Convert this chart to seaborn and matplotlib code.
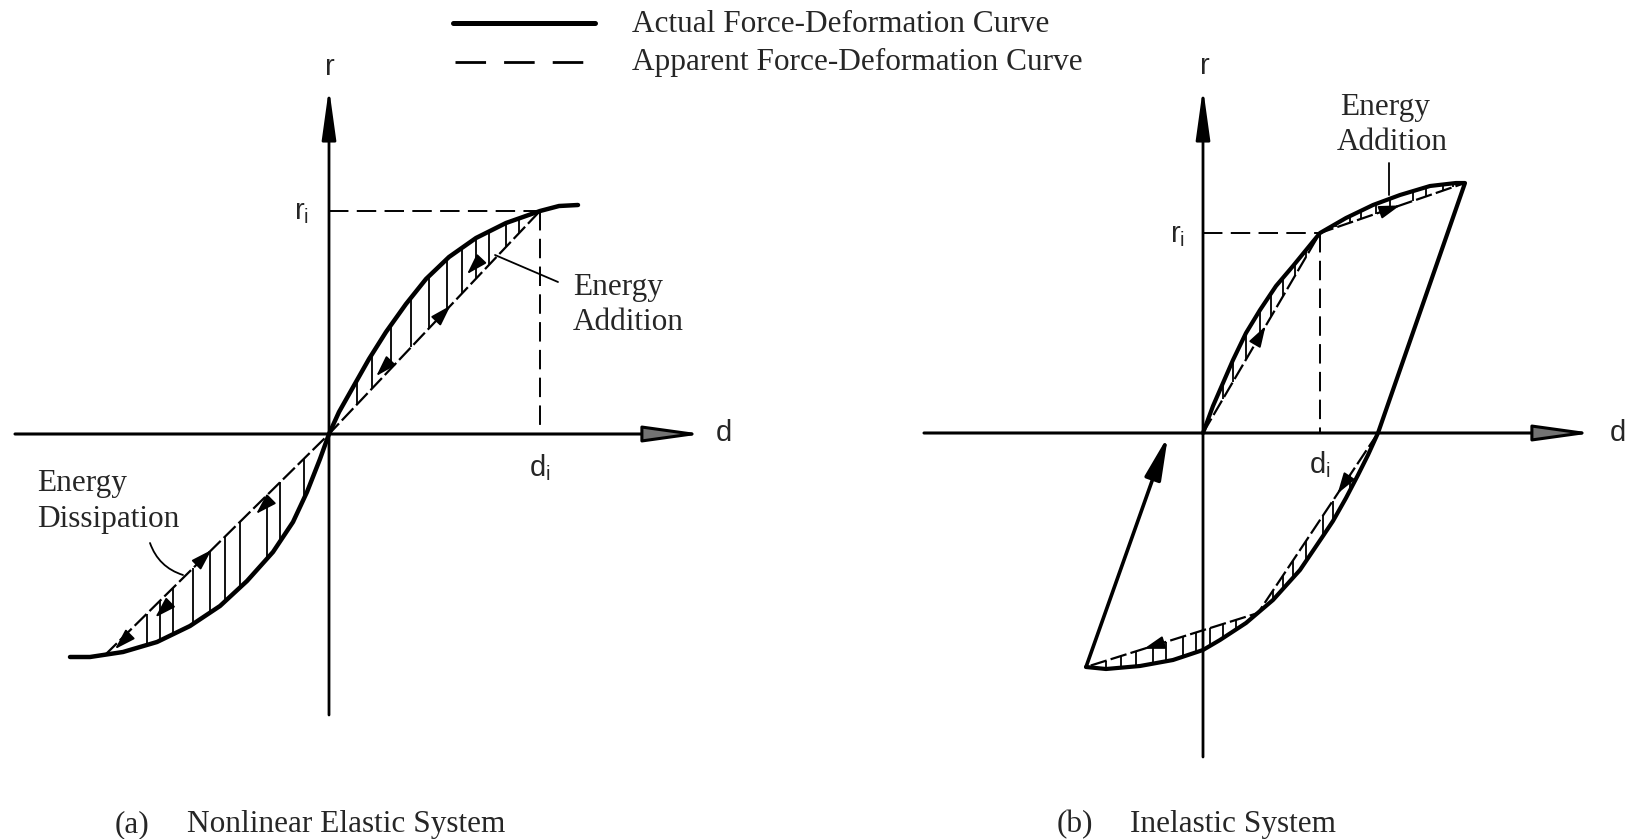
import numpy as np
import matplotlib
matplotlib.use("Agg")
import matplotlib.pyplot as plt
import seaborn as sns

# ---------------- panel (a): nonlinear elastic system ----------------
# actual force-deformation curve (d, r), origin at the axes crossing
a_curve_d = [-259, -239, -206, -172, -139, -109, -82, -56, -36, -22, -9, 0,
             10, 23, 40, 57, 77, 97, 120, 147, 177, 211, 230, 249]
a_curve_r = [-223, -223, -218, -208, -192, -172, -147, -118, -88, -58, -25, 0,
             22, 45, 75, 102, 130, 155, 177, 196, 211, 223, 228, 229]
# apparent (secant) curve
a_app_d = [-224, 0, 211]
a_app_r = [-221, 0, 223]
# current point (d_i, r_i)
a_di, a_ri = 211, 223
# hatch positions between apparent and actual curves
a_hatch_d = [-182, -169, -156, -136, -119, -104, -89, -62, -49, -25,
             28, 43, 62, 82, 100, 118, 133, 147, 160, 177, 190]

# ---------------- panel (b): inelastic system ----------------
b_load_d = [0, 10, 20, 30, 43, 57, 73, 90, 117, 143, 170, 197, 227, 253, 262]
b_load_r = [0, 27, 50, 73, 100, 123, 147, 167, 200, 215, 228, 238, 247, 250, 250]
b_unload_d = [262, 175, 165, 155, 143, 130, 120, 97, 70, 43, 17, 0, -30, -63, -97, -117]
b_unload_r = [250, 0, -22, -42, -65, -88, -103, -137, -167, -190, -207, -217, -227, -233, -236, -234]
b_reload_d = [-117, -35]
b_reload_r = [-234, -3]
b_app_up_d = [0, 117, 262]
b_app_up_r = [0, 200, 250]
b_app_lo_d = [175, 55, -117]
b_app_lo_r = [0, -180, -234]
b_di, b_ri = 117, 200
b_hatch_up_d = [20, 30, 43, 57, 68, 80, 92, 103, 133, 147, 158, 173, 187, 210, 223, 240, 250]
b_hatch_lo_d = [147, 130, 120, 103, 90, 80, 70,
                -97, -82, -67, -50, -37, -20, -7, 7, 20, 33]

# ---------------- style ----------------
sns.set_theme(style="white")
plt.rcParams["font.family"] = ["Liberation Serif", "DejaVu Serif"]
plt.rcParams["mathtext.fontset"] = "custom"
plt.rcParams["mathtext.rm"] = "Liberation Sans"
plt.rcParams["mathtext.it"] = "Liberation Sans"
plt.rcParams["lines.scale_dashes"] = False

W, H = 1627, 839
fig = plt.figure(figsize=(W / 100, H / 100), dpi=100)
fig.patch.set_facecolor("white")

SERIF = 22.5
SANS = 21
K = "black"


def make_axes(ox, oy, label):
    ax = fig.add_axes([0, 0, 1, 1], label=label)
    ax.set_xlim(-ox, W - ox)
    ax.set_ylim(-(H - oy), oy)
    ax.set_axis_off()
    ax.patch.set_alpha(0)
    return ax


def draw_axes(ax, xl, xr, yb, yt):
    ax.annotate("", xy=(xr, 0), xytext=(xl, 0),
                arrowprops=dict(arrowstyle="-|>,head_length=36,head_width=5",
                                mutation_scale=1, lw=2.2, ec=K, fc="0.45",
                                shrinkA=0, shrinkB=0))
    ax.annotate("", xy=(0, yt), xytext=(0, yb),
                arrowprops=dict(arrowstyle="-|>,head_length=31,head_width=4.3",
                                mutation_scale=1, lw=2.0, ec=K, fc=K,
                                shrinkA=0, shrinkB=0))


def small_arrow(ax, x0, y0, x1, y1, t, reverse=False, L=16, hw=4.0):
    p0 = np.array([x0, y0], float)
    p1 = np.array([x1, y1], float)
    u = (p1 - p0) / np.hypot(*(p1 - p0))
    if reverse:
        u = -u
    pos = p0 + t * (p1 - p0)
    ax.annotate("", xy=pos + u * L * 0.5, xytext=pos - u * L * 0.5,
                arrowprops=dict(arrowstyle=f"-|>,head_length={L * 0.8},head_width={hw}",
                                mutation_scale=1, lw=1.3, color=K,
                                shrinkA=0, shrinkB=0))


def hatch(ax, ds, cd, cr, pd_, pr_):
    ds = np.asarray(ds, float)
    cd, cr = np.asarray(cd, float), np.asarray(cr, float)
    pd_, pr_ = np.asarray(pd_, float), np.asarray(pr_, float)
    if cd[0] > cd[-1]:
        cd, cr = cd[::-1], cr[::-1]
    if pd_[0] > pd_[-1]:
        pd_, pr_ = pd_[::-1], pr_[::-1]
    ax.vlines(ds, np.interp(ds, pd_, pr_), np.interp(ds, cd, cr), color=K, lw=1.3)


# ================= panel (a) =================
ax_a = make_axes(329, 434, "a")
draw_axes(ax_a, -314, 374, -281, 346)

ax_a.plot([0, a_di], [a_ri, a_ri], color=K, lw=1.4, ls=(0, (14, 6)))
ax_a.plot([a_di, a_di], [a_ri, 0], color=K, lw=1.4, ls=(0, (14, 6)))

sns.lineplot(x=a_app_d, y=a_app_r, sort=False, estimator=None, ax=ax_a,
             color=K, lw=1.6, linestyle=(0, (12, 3)))
hatch(ax_a, [d for d in a_hatch_d if d > 0], a_curve_d, a_curve_r, a_app_d, a_app_r)
hatch(ax_a, [d for d in a_hatch_d if d < 0], a_curve_d, a_curve_r, a_app_d, a_app_r)
sns.lineplot(x=a_curve_d, y=a_curve_r, sort=False, estimator=None, ax=ax_a,
             color=K, lw=3.2)

small_arrow(ax_a, 0, 0, a_di, a_ri, 0.55)
small_arrow(ax_a, 0, 0, a_app_d[0], a_app_r[0], 0.55, reverse=True)
small_arrow(ax_a, 0, 8, a_di, a_ri + 8, 0.25, reverse=True)
small_arrow(ax_a, 0, 14, a_di, a_ri + 14, 0.68, reverse=True)
small_arrow(ax_a, 0, -8, a_app_d[0], a_app_r[0] - 8, 0.30)
small_arrow(ax_a, 0, -12, a_app_d[0], a_app_r[0] - 12, 0.75)
small_arrow(ax_a, 0, -4, a_app_d[0], a_app_r[0] - 4, 0.93)

ax_a.text(1, 367, "r", family="Liberation Sans", fontsize=SANS, ha="center", va="center")
ax_a.text(-20, 215, r"r$_{\mathrm{i}}$", family="Liberation Sans", fontsize=SANS,
          ha="right", va="baseline")
ax_a.text(a_di, -34, r"d$_{\mathrm{i}}$", family="Liberation Sans", fontsize=SANS,
          ha="center", va="center")
ax_a.text(395, 1, "d", family="Liberation Sans", fontsize=SANS, ha="center", va="center")

ax_a.text(244, 147, "Energy", fontsize=SERIF, ha="left", va="center")
ax_a.text(244, 112, "Addition", fontsize=SERIF, ha="left", va="center")
ax_a.plot([166, 229], [179, 152], color=K, lw=1.3)

ax_a.text(-292, -49, "Energy", fontsize=SERIF, ha="left", va="center")
ax_a.text(-292, -85, "Dissipation", fontsize=SERIF, ha="left", va="center")
ax_a.annotate("", xy=(-146, -141), xytext=(-179, -109),
              arrowprops=dict(arrowstyle="-", lw=1.3, color=K,
                              connectionstyle="arc3,rad=0.25",
                              shrinkA=0, shrinkB=0))

# legend
ax_a.plot([124, 266], [411, 411], color=K, lw=3.6, solid_capstyle="round")
ax_a.plot([126, 263], [372, 372], color=K, lw=2.0, ls=(0, (22, 13)))
ax_a.text(303, 402, "Actual Force-Deformation Curve", fontsize=SERIF,
          ha="left", va="baseline")
ax_a.text(303, 364, "Apparent Force-Deformation Curve", fontsize=SERIF,
          ha="left", va="baseline")

ax_a.text(-214, -398, "(a)", fontsize=SERIF, ha="left", va="baseline")
ax_a.text(-142, -398, "Nonlinear Elastic System", fontsize=SERIF, ha="left", va="baseline")

# ================= panel (b) =================
ax_b = make_axes(1203, 433, "b")
draw_axes(ax_b, -279, 390, -324, 345)

ax_b.plot([0, b_di], [b_ri, b_ri], color=K, lw=1.4, ls=(0, (14, 6)))
ax_b.plot([b_di, b_di], [b_ri, 0], color=K, lw=1.4, ls=(0, (14, 6)))

sns.lineplot(x=b_app_up_d, y=b_app_up_r, sort=False, estimator=None, ax=ax_b,
             color=K, lw=1.6, linestyle=(0, (12, 3)))
sns.lineplot(x=b_app_lo_d, y=b_app_lo_r, sort=False, estimator=None, ax=ax_b,
             color=K, lw=1.6, linestyle=(0, (12, 3)))
hatch(ax_b, b_hatch_up_d, b_load_d, b_load_r, b_app_up_d, b_app_up_r)
lo_curve_d, lo_curve_r = b_unload_d[1:], b_unload_r[1:]
hatch(ax_b, [d for d in b_hatch_lo_d if d > 60], lo_curve_d, lo_curve_r,
      b_app_lo_d[:2], b_app_lo_r[:2])
hatch(ax_b, [d for d in b_hatch_lo_d if d < 60], lo_curve_d, lo_curve_r,
      b_app_lo_d[1:], b_app_lo_r[1:])

sns.lineplot(x=b_load_d + b_unload_d[1:], y=b_load_r + b_unload_r[1:], sort=False,
             estimator=None, ax=ax_b, color=K, lw=3.0)
ax_b.annotate("", xy=(b_reload_d[1], b_reload_r[1]), xytext=(b_reload_d[0], b_reload_r[0]),
              arrowprops=dict(arrowstyle="-|>,head_length=26,head_width=5",
                              mutation_scale=1, lw=2.6, color=K,
                              shrinkA=0, shrinkB=0))

small_arrow(ax_b, 0, 0, b_di, b_ri, 0.5)
small_arrow(ax_b, b_di, b_ri, 262, 250, 0.5)
small_arrow(ax_b, 175, 0, 55, -180, 0.3)
small_arrow(ax_b, 55, -180, -117, -234, 0.62)

ax_b.text(2, 367, "r", family="Liberation Sans", fontsize=SANS, ha="center", va="center")
ax_b.text(-18, 191, r"r$_{\mathrm{i}}$", family="Liberation Sans", fontsize=SANS,
          ha="right", va="baseline")
ax_b.text(b_di, -32, r"d$_{\mathrm{i}}$", family="Liberation Sans", fontsize=SANS,
          ha="center", va="center")
ax_b.text(415, 0, "d", family="Liberation Sans", fontsize=SANS, ha="center", va="center")

ax_b.text(182, 325, "Energy", fontsize=SERIF, ha="center", va="center")
ax_b.text(189, 290, "Addition", fontsize=SERIF, ha="center", va="center")
ax_b.plot([186, 186], [270, 238], color=K, lw=1.3)

ax_b.text(-146, -399, "(b)", fontsize=SERIF, ha="left", va="baseline")
ax_b.text(-73, -399, "Inelastic System", fontsize=SERIF, ha="left", va="baseline")

fig.savefig("out.png", dpi=100, facecolor="white")
